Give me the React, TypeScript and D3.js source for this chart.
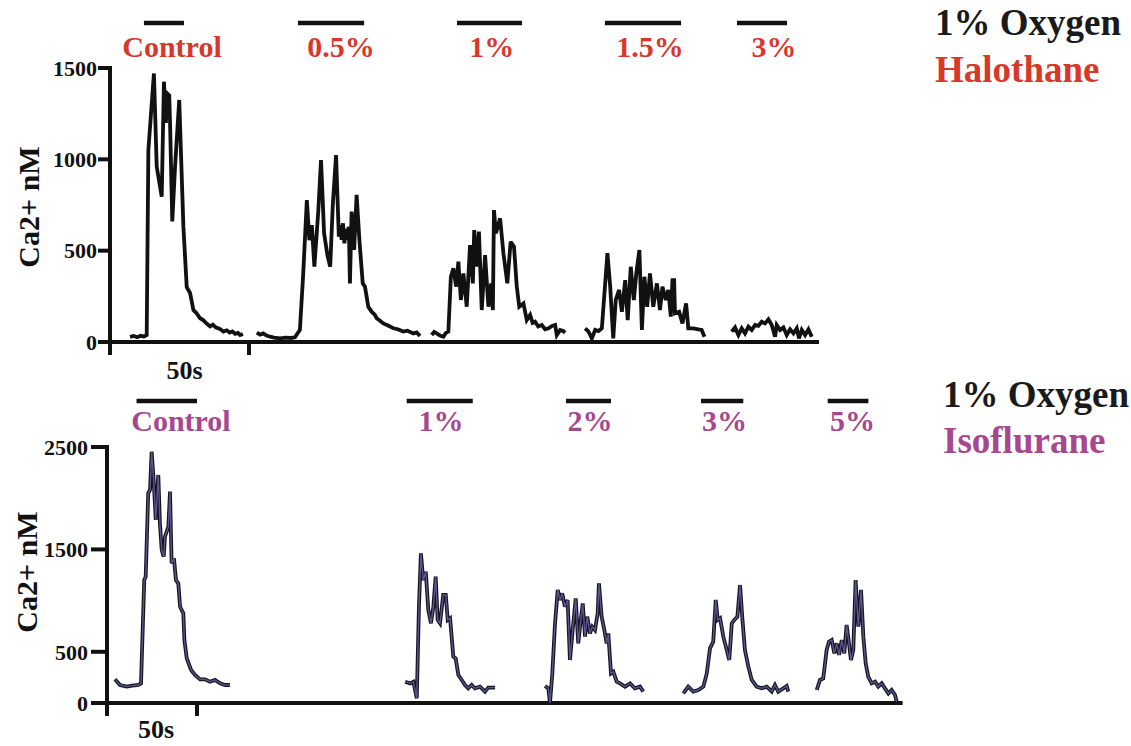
import React from "react";
import * as d3 from "d3";

// ---------- DATA ----------
// time (s), Ca2+ (nM)
const halControl: [number, number][] = [[7.2,28],[8.5,33],[9.8,26],[11,34],[12.2,30],[13.2,38],[13.8,1050],[15.8,1470],[16.8,960],[18.6,795],[19.4,1425],[20.1,1200],[20.6,1360],[21.3,1350],[21.6,1200],[22.4,660],[23.4,960],[24.9,1325],[26.4,630],[27.6,300],[28.8,268],[30,175],[31,160],[32.4,130],[33.5,120],[34.5,105],[36,85],[37,95],[38,80],[39.5,72],[40.8,57],[42,64],[43,52],[44,58],[45,45],[46,50],[46.8,38],[47.8,44]];
const hal05: [number, number][] = [[52.8,51],[54,40],[55.1,47],[56.3,35],[57.6,29],[59,24],[61.2,20],[63,24],[65,22],[66.5,26],[68.3,66],[69.5,376],[70.8,777],[71.7,558],[72.6,640],[73.5,412],[74.9,714],[75.9,996],[77,595],[78.2,476],[79.2,412],[80.1,741],[81.3,1023],[82.3,577],[82.8,640],[83.3,560],[83.8,650],[84.3,540],[84.8,620],[85.4,560],[85.9,631],[86.3,321],[86.9,714],[87.8,504],[88.7,805],[89.7,558],[90.9,321],[91.7,303],[92.9,193],[94.1,166],[95.2,150],[95.9,130],[97,118],[98.3,102],[100,90],[101.9,75],[103.5,70],[105.5,57],[107,62],[109.1,47],[110.3,52],[111.5,33]];
const hal1: [number, number][] = [[115.7,38],[116.6,55],[117.5,47],[118.7,35],[119.9,29],[120.8,50],[121.7,57],[122.6,357],[123.5,403],[124.5,303],[125.3,440],[126.2,230],[127.1,376],[128.3,193],[129.5,531],[130.5,321],[131,613],[131.9,412],[132.7,604],[133.7,175],[134.9,476],[136.1,193],[137.1,321],[137.7,175],[138.1,722],[138.8,595],[140.3,677],[141.5,486],[142.9,321],[144.1,549],[145.3,522],[146.3,303],[147.2,193],[148.7,211],[149.9,120],[151.1,148],[152,105],[152.9,111],[154,85],[155.3,93],[156.5,70],[157.7,75],[159,88],[160.1,93],[160.7,38],[161.9,66],[163,60],[163.7,51]];
const hal15: [number, number][] = [[170.9,75],[172.1,57],[173.3,20],[174.5,66],[175.7,60],[176.9,75],[178.1,321],[178.9,486],[179.9,303],[181,20],[181.9,230],[183.1,285],[184.1,166],[185.3,339],[186.2,120],[187.3,412],[188.4,230],[189.3,376],[190.4,504],[191.3,66],[192.2,357],[193.2,193],[194.2,376],[195.4,193],[196.7,321],[197.8,175],[198.7,303],[199.9,230],[200.8,285],[201.7,139],[202.3,339],[202.9,339],[203.2,157],[204.7,166],[205.9,102],[207.2,211],[208,75],[209.8,75],[211.6,69],[212.8,66],[213.8,29]];
const hal3: [number, number][] = [[223.6,57],[224.8,80],[226,38],[227.2,75],[228.4,47],[229.6,84],[230.8,66],[232,93],[233.2,88],[234.4,111],[235.6,102],[236.8,124],[238,93],[239.2,29],[239.8,93],[241,66],[242.2,80],[243.4,38],[244.6,69],[245.8,47],[247,75],[247.8,20],[248.8,66],[250,38],[251.2,69],[252.4,29]];

const isoControl: [number, number][] = [[4.4,231],[7.2,176],[10.9,160],[14,170],[17.4,176],[18.9,192],[20.7,1201],[21.5,1234],[22.9,2048],[23.9,2080],[24.8,2454],[25.9,2178],[27.1,1787],[28.5,2227],[29.4,1755],[30.4,1494],[31.5,1429],[32.2,1624],[34.1,1722],[35,2064],[35.9,1364],[37.2,1413],[38.3,1201],[39.6,1169],[40.6,940],[42.4,876],[43,615],[44.3,437],[46.7,322],[48.9,273],[51.7,231],[54.4,231],[57.2,208],[60,225],[62.8,192],[65.6,176],[68.3,176]];
const iso1: [number, number][] = [[165.6,208],[168.3,192],[170.2,208],[172.1,46],[173.3,940],[174.4,1461],[175.7,1201],[177.1,1282],[178.5,908],[180,778],[181.3,940],[182.6,1234],[183.7,811],[185,778],[186.8,1055],[188.2,1055],[189.3,811],[190.6,827],[192.4,452],[193.7,436],[195.2,273],[197.1,225],[198.9,176],[200.7,143],[202.6,176],[204.4,143],[207.2,160],[210,111],[211.8,150],[215.6,150]];
const iso2: [number, number][] = [[243.3,166],[245.2,143],[246.1,0],[247.4,289],[248.9,778],[250.4,1104],[251.7,1006],[252.9,1071],[254.4,940],[255.9,1006],[257.2,420],[258.7,713],[260.4,1022],[261.8,583],[263.2,811],[264.3,973],[265.6,648],[266.8,843],[268.3,680],[269.6,745],[271.1,713],[272.6,876],[273.3,1169],[274.8,843],[276.3,713],[277.6,583],[278.5,680],[280,289],[281.3,305],[283.2,208],[285,192],[287.8,160],[290.6,192],[293.3,143],[296.1,160],[297.9,111]];
const iso3: [number, number][] = [[320.2,94],[322.9,160],[325.7,111],[328.5,127],[331.3,160],[333.2,289],[335,533],[336.8,599],[338.2,1006],[339.3,811],[340.6,827],[342.4,648],[344.3,518],[345.7,420],[347.1,778],[348.5,811],[350.2,843],[351.7,1152],[352.9,843],[354.4,518],[356.3,355],[358.2,225],[360.9,160],[363.7,143],[366.5,160],[369.3,111],[371.1,176],[372.9,111],[375.7,143],[377.6,166],[378.5,111]];
const iso5: [number, number][] = [[394.3,127],[396.1,225],[397.9,240],[399.8,518],[401.1,599],[402.6,615],[404.1,485],[405.4,583],[406.7,469],[408.2,615],[409.6,485],[410.9,762],[412.2,583],[413.3,420],[414.6,518],[415.9,1201],[417.4,745],[418.9,1104],[420.2,648],[421.5,387],[422.9,257],[424.8,192],[426.7,208],[428.5,160],[430.4,192],[432.2,143],[434.1,94],[435.9,127],[437.8,78],[438.7,13]];

// stimulus periods (s) and label centres (s)
const halLabels = ["Control", "0.5%", "1%", "1.5%", "3%"];
const halStart = [12.2, 67.6, 124.8, 178, 225.5];
const halEnd = [26.6, 91.4, 148.2, 205.4, 243.5];
const halLabelT = [22.3, 83.1, 137.3, 194.2, 238.8];

const isoLabels = ["Control", "1%", "2%", "3%", "5%"];
const isoStart = [16.4, 166.5, 255, 330, 400.4];
const isoEnd = [50, 203.2, 280, 353.5, 423];
const isoLabelT = [41.1, 185.6, 268.3, 343.1, 414.2];

const topYTicks = [0, 500, 1000, 1500];
const bottomYTicks = [0, 500, 1500, 2500];
const timeBar = [0, 50];

const FONT = "Liberation Serif, Times New Roman, DejaVu Serif, serif";
const RED = "#d8382a";
const PURPLE = "#a6478f";

export default function App() {
  // top panel scales
  const xT = d3.scaleLinear().domain([0, 255]).range([110, 819]);
  const yT = d3.scaleLinear().domain([0, 1500]).range([342, 68]);
  // bottom panel scales
  const xB = d3.scaleLinear().domain([0, 442]).range([107, 902.6]);
  const yB = d3.scaleLinear().domain([0, 2500]).range([703, 447]);

  const lineT = d3.line<[number, number]>().x((d) => xT(d[0])).y((d) => yT(d[1]));
  const lineB = d3.line<[number, number]>().x((d) => xB(d[0])).y((d) => yB(d[1]));

  const topTraces = [halControl, hal05, hal1, hal15, hal3];
  const bottomTraces = [isoControl, iso1, iso2, iso3, iso5];
  const txt = { fontFamily: FONT, fontWeight: 700 } as React.CSSProperties;

  return (
    <svg width={1131} height={746} style={{ position: "absolute", left: 0, top: 0, background: "#fff" }}>
      <rect width={1131} height={746} fill="#fff" />
      {/* ---------- TOP PANEL ---------- */}
      {halLabels.map((l, i) => (
        <g key={"hb" + i}>
          <line x1={xT(halStart[i])} x2={xT(halEnd[i])} y1={23} y2={23} stroke="#111" strokeWidth={4.5} />
          <text style={txt} x={xT(halLabelT[i])} y={57} textAnchor="middle" fontSize={30} fill={RED}>{l}</text>
        </g>
      ))}
      {/* axes */}
      <line x1={xT(0)} x2={xT(0)} y1={yT(1500) - 2} y2={355} stroke="#111" strokeWidth={4} />
      <line x1={98} x2={xT(255)} y1={yT(0)} y2={yT(0)} stroke="#111" strokeWidth={4} />
      {topYTicks.map((t) => (
        <g key={"ty" + t}>
          <line x1={98} x2={xT(0)} y1={yT(t)} y2={yT(t)} stroke="#111" strokeWidth={4} />
          <text style={txt} x={97} y={yT(t)} dy="0.35em" textAnchor="end" fontSize={22} fill="#111">{t}</text>
        </g>
      ))}
      {timeBar.map((t) => (
        <line key={"tx" + t} x1={xT(t)} x2={xT(t)} y1={yT(0)} y2={355} stroke="#111" strokeWidth={4} />
      ))}
      <text style={txt} x={(xT(0) + xT(50)) / 2 + 5} y={379} textAnchor="middle" fontSize={26} fill="#111">50s</text>
      <text style={txt} transform="translate(39,207) rotate(-90)" textAnchor="middle" fontSize={30} fill="#111">Ca2+ nM</text>
      {topTraces.map((d, i) => (
        <path key={"tt" + i} d={lineT(d) || ""} fill="none" stroke="#111" strokeWidth={3.8} strokeLinejoin="miter" strokeMiterlimit={3} />
      ))}
      <text style={txt} x={935} y={35} fontSize={37} fill="#1a1a1a">1% Oxygen</text>
      <text style={txt} x={935} y={82} fontSize={37} fill={RED}>Halothane</text>

      {/* ---------- BOTTOM PANEL ---------- */}
      {isoLabels.map((l, i) => (
        <g key={"ib" + i}>
          <line x1={xB(isoStart[i])} x2={xB(isoEnd[i])} y1={401} y2={401} stroke="#111" strokeWidth={4.5} />
          <text style={txt} x={xB(isoLabelT[i])} y={431} textAnchor="middle" fontSize={30} fill={PURPLE}>{l}</text>
        </g>
      ))}
      <line x1={xB(0)} x2={xB(0)} y1={yB(2500) - 2} y2={716} stroke="#111" strokeWidth={4} />
      <line x1={91} x2={xB(442)} y1={yB(0)} y2={yB(0)} stroke="#111" strokeWidth={4} />
      {bottomYTicks.map((t) => (
        <g key={"by" + t}>
          <line x1={91} x2={xB(0)} y1={yB(t)} y2={yB(t)} stroke="#111" strokeWidth={4} />
          <text style={txt} x={88} y={yB(t)} dy="0.35em" textAnchor="end" fontSize={22} fill="#111">{t}</text>
        </g>
      ))}
      {timeBar.map((t) => (
        <line key={"bx" + t} x1={xB(t)} x2={xB(t)} y1={yB(0)} y2={716} stroke="#111" strokeWidth={4} />
      ))}
      <text style={txt} x={156} y={738} textAnchor="middle" fontSize={26} fill="#111">50s</text>
      <text style={txt} transform="translate(37,572) rotate(-90)" textAnchor="middle" fontSize={30} fill="#111">Ca2+ nM</text>
      {bottomTraces.map((d, i) => (
        <g key={"bt" + i}>
          <path d={lineB(d) || ""} fill="none" stroke="#15151f" strokeWidth={3.8} strokeLinejoin="miter" strokeMiterlimit={3} />
          <path d={lineB(d) || ""} fill="none" stroke="#5a5590" strokeWidth={1.4} strokeLinejoin="miter" strokeMiterlimit={3} />
        </g>
      ))}
      <text style={txt} x={943} y={407} fontSize={37} fill="#1a1a1a">1% Oxygen</text>
      <text style={txt} x={943} y={453} fontSize={37} fill={PURPLE}>Isoflurane</text>
    </svg>
  );
}
